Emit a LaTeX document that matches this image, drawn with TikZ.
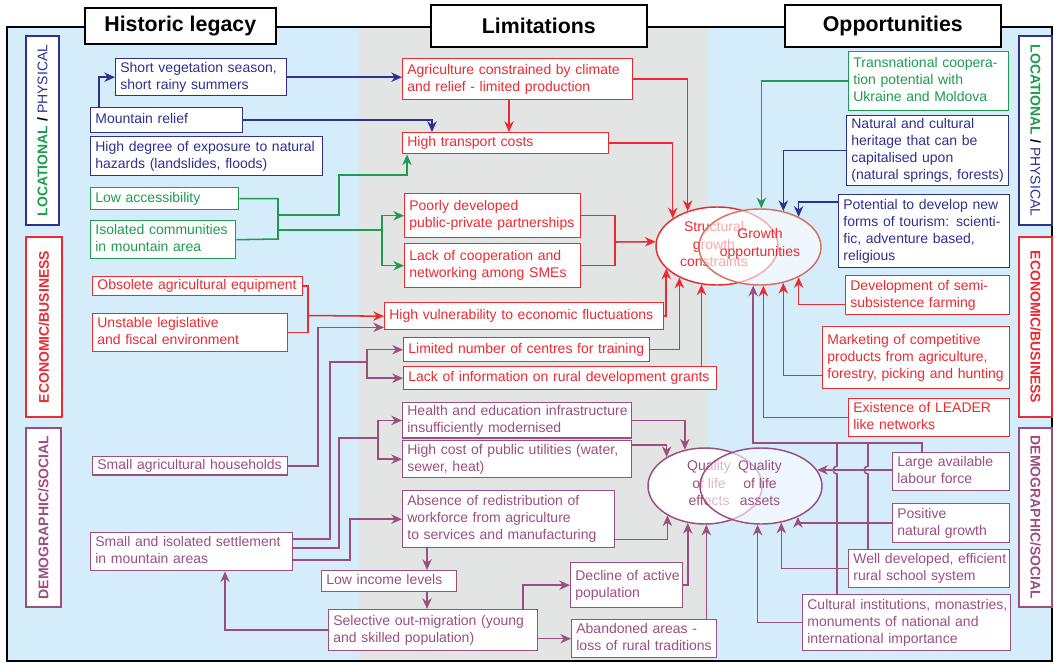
\documentclass[tikz,border=0pt]{standalone}
\usepackage{fontspec}
\setmainfont{Liberation Sans}
\usetikzlibrary{shapes.geometric,arrows.meta,calc}
\definecolor{cb}{HTML}{2E3192}
\definecolor{cg}{HTML}{1E9C4F}
\definecolor{cr}{HTML}{EC2A31}
\definecolor{cp}{HTML}{9C4F7E}
\definecolor{cgo}{HTML}{D9705E}
\definecolor{bgb}{HTML}{D5EDFA}
\definecolor{bgg}{HTML}{E3E4E4}
\tikzset{
 box/.style={draw, fill=white, anchor=north west, line width=1.05pt, inner xsep=3.5pt, inner ysep=0.5pt, align=left, font=\fontsize{10.5}{12.8}\selectfont},
 cn/.style={line width=1.15pt},
 arr/.style={-{Stealth[length=8pt,width=7pt,inset=2.5pt]}},
 hdr/.style={draw=black, fill=white, line width=1.2pt, anchor=north west, inner sep=0pt, font=\bfseries\fontsize{16}{18}\selectfont},
 cat/.style={draw, fill=white, line width=1.05pt, inner sep=0pt, font=\bfseries\fontsize{10.5}{12}\selectfont},
 elltext/.style={font=\fontsize{10.5}{13}\selectfont, align=center, inner sep=0pt},
}
\newcommand\boxnode[7]{%
  \pgfmathsetmacro\bxw{(#4)*0.75-7}%
  \pgfmathsetmacro\bxh{(#5)*0.75}%
  \node[box, draw=#6, text=#6, text width=\bxw pt, minimum height=\bxh pt] (#1) at (#2,#3) {\begin{tabular}{@{}l@{}}#7\end{tabular}};}
\begin{document}
\begin{tikzpicture}[x=0.75pt,y=-0.75pt]
\useasboundingbox (0,0) rectangle (1054,664);
\fill[white] (0,0) rectangle (1054,664);
\fill[bgb] (7,27) rectangle (1052,661);
\fill[bgg] (359,27) rectangle (708,661);
\draw[line width=1.6pt] (7,27) rectangle (1052,661);
% headers
\node[hdr, minimum width=143.25pt, minimum height=27pt] (hl) at (84,7) {Historic legacy};
\node[hdr, minimum width=162pt, minimum height=31.5pt] (lim) at (430,4) {Limitations};
\node[hdr, minimum width=162pt, minimum height=31.5pt] (opp) at (784,4) {Opportunities};
% category boxes
\node[cat, draw=cb, rotate=90, minimum width=141.75pt, minimum height=24.75pt] (lp1) at (42.5,130.5) {\textcolor{cg}{LOCATIONAL} / \textcolor{cb}{\mdseries PHYSICAL}};
\node[cat, draw=cr, text=cr, rotate=90, minimum width=135pt, minimum height=27pt] (eb1) at (44,327) {ECONOMIC/BUSINESS};
\node[cat, draw=cp, text=cp, rotate=90, minimum width=134.25pt, minimum height=26.25pt] (ds1) at (43.5,517.5) {DEMOGRAPHIC/SOCIAL};
\node[cat, draw=cb, rotate=-90, minimum width=141.75pt, minimum height=24.75pt] (lp2) at (1035.5,130.5) {\textcolor{cg}{LOCATIONAL} / \textcolor{cb}{\mdseries PHYSICAL}};
\node[cat, draw=cr, text=cr, rotate=-90, minimum width=135pt, minimum height=24.75pt] (eb2) at (1035.5,327) {ECONOMIC/BUSINESS};
\node[cat, draw=cp, text=cp, rotate=-90, minimum width=134.25pt, minimum height=24.75pt] (ds2) at (1035.5,517.5) {DEMOGRAPHIC/SOCIAL};
% historic legacy
\boxnode{sv}{115}{58}{171}{37}{cb}{Short vegetation season,\\short rainy summers}
\boxnode{mr}{90}{107}{152}{25}{cb}{Mountain relief}
\boxnode{hd}{90}{136}{232}{39}{cb}{High degree of exposure to natural\\hazards (landslides, floods)}
\boxnode{la}{90}{187}{148}{22}{cg}{Low accessibility}
\boxnode{ic}{90}{220}{145}{38}{cg}{Isolated communities\\in mountain area}
\boxnode{oe}{92}{276}{210}{19}{cr}{Obsolete agricultural equipment}
\boxnode{ul}{92}{313}{195}{38}{cr}{Unstable legislative\\and fiscal environment}
\boxnode{sah}{92}{456}{195}{18}{cp}{Small agricultural households}
\boxnode{sis}{90}{532}{202}{38}{cp}{Small and isolated settlement\\in mountain areas}
% limitations
\boxnode{acc}{402}{58}{230}{41}{cr}{Agriculture constrained by climate\\and relief - limited production}
\boxnode{htc}{402}{132}{206}{21}{cr}{High transport costs}
\boxnode{ppp}{404}{193}{176}{44}{cr}{Poorly developed\\public-private partnerships}
\boxnode{lcn}{404}{243}{176}{44}{cr}{Lack of cooperation and\\networking among SMEs}
\boxnode{hvf}{384}{302}{279}{27}{cr}{High vulnerability to economic fluctuations}
\boxnode{lnc}{403}{337}{246}{24}{cr}{Limited number of centres for training}
\boxnode{lir}{403}{366}{313}{23}{cr}{Lack of information on rural development grants}
\boxnode{hei}{402}{402}{229}{35}{cp}{Health and education infrastructure\\insufficiently modernised}
\boxnode{hcu}{402}{440}{229}{37}{cp}{High cost of public utilities (water,\\sewer, heat)}
\boxnode{arw}{402}{490}{212}{57}{cp}{Absence of redistribution of\\workforce from agriculture\\to services and manufacturing}
\boxnode{lil}{321}{570}{135}{21}{cp}{Low income levels}
\boxnode{som}{328}{609}{209}{41}{cp}{Selective out-migration (young\\and skilled population)}
\boxnode{dap}{570}{562}{112}{45}{cp}{Decline of active\\population}
\boxnode{aal}{571}{619}{145}{38}{cp}{Abandoned areas -\\loss of rural traditions}
% opportunities
\boxnode{tcp}{848}{51}{160}{59}{cg}{Transnational coopera-\\tion potential with\\Ukraine and Moldova}
\boxnode{ncu}{846}{115}{162}{70}{cb}{Natural and cultural\\heritage that can be\\capitalised upon\\(natural springs, forests)}
\boxnode{pdt}{838}{194}{171}{73}{cb}{Potential to develop new\\forms of tourism: scienti-\\fic, adventure based,\\religious}
\boxnode{dss}{845}{275}{164}{39}{cr}{Development of semi-\\subsistence farming}
\boxnode{mcp}{822}{326}{187}{62}{cr}{Marketing of competitive\\products from agriculture,\\forestry, picking and hunting}
\boxnode{eln}{848}{398}{161}{38}{cr}{Existence of LEADER\\like networks}
\boxnode{lal}{892}{452}{117}{38}{cp}{Large available\\labour force}
\boxnode{png}{892}{503}{117}{39}{cp}{Positive\\natural growth}
\boxnode{wde}{848}{549}{161}{38}{cp}{Well developed, efficient\\rural school system}
\boxnode{cim}{802}{594}{208}{56}{cp}{Cultural institutions, monastries,\\monuments of national and\\international importance}
% ellipses
\node[ellipse, draw=cr, fill=white, line width=1.1pt, minimum width=91.5pt, minimum height=58.5pt, inner sep=0pt] (sgc) at (717,246) {};
\node[elltext, text=cr] (sgct) at (714,244) {Structural\\growth\\constraints};
\node[ellipse, draw=cgo, fill=white, fill opacity=0.6, line width=1.1pt, minimum width=91.5pt, minimum height=57pt, inner sep=0pt] (go) at (760,247) {};
\node[elltext, text=cr] (got) at (760,244) {Growth\\opportunities};
\node[ellipse, draw=cp, fill=white, line width=1.1pt, minimum width=85.5pt, minimum height=57pt, inner sep=0pt] (qe) at (705,486) {};
\node[elltext, text=cp] (qet) at (709,483) {Quality\\of life\\effects};
\node[ellipse, draw=cp, fill=white, fill opacity=0.6, line width=1.1pt, minimum width=91.5pt, minimum height=57pt, inner sep=0pt] (qa) at (761,486) {};
\node[elltext, text=cp] (qat) at (760,483) {Quality\\of life\\assets};
% junctions
\coordinate (gx) at (278,239);
\coordinate (g1) at (278,215);
\coordinate (g2) at (278,230);
\coordinate (g3) at (382,230);
\coordinate (r1) at (615,242);
\coordinate (r2) at (308,315.5);
\coordinate (p1) at (367,362);
\coordinate (p2) at (378,438);
% blue
\draw[cb,cn,arr] ($(mr.north west)+(9,0)$) |- (sv.west);
\draw[cb,cn,arr] (sv.east) -- (sv.east -| acc.west);
\draw[cb,cn,arr] (mr.east) -| ($(htc.north west)+(30,0)$);
% green
\draw[cg,cn] (la.east) -| (gx) -- (ic.east);
\draw[cg,cn,arr] (g1) -| (339,175) -| ($(htc.south west)+(5,0)$);
\draw[cg,cn] (g2) -- (g3);
\draw[cg,cn,arr] (g3) |- (ppp.west);
\draw[cg,cn,arr] (g3) |- (lcn.west);
% red limitations
\draw[cr,cn,arr] ($(acc.south west)+(107,0)$) -- ($(htc.north west)+(107,0)$);
\draw[cr,cn,arr] (acc.east) -| (sgc.130);
\draw[cr,cn,arr] (htc.east) -| (sgc.148);
\draw[cr,cn] (ppp.east) -| (r1) |- (lcn.east);
\draw[cr,cn,arr] (r1) -- (sgc.176);
\draw[cr,cn] (oe.east) -| (r2) |- (ul.east);
\draw[cr,cn,arr] (r2) -- (hvf.west);
\draw[cr,cn,arr] (hvf.east) -| (sgc.204);
\draw[cr,cn,arr] (lnc.east) -| (sgc.220);
\draw[cr,cn,arr] (sgc.248 |- lir.north) -- (sgc.248);
% purple left
\draw[cp,cn,arr] (sah.east) -| ($(hvf.south west)+(-66,-3)$) -- ($(hvf.south west)+(0,-3)$);
\draw[cp,cn] ($(sis.north east)+(0,7)$) -| (330,362) -- (p1);
\draw[cp,cn,arr] (p1) |- (lnc.west);
\draw[cp,cn,arr] (p1) |- (lir.west);
\draw[cp,cn] ($(sis.north east)+(0,16)$) -| (339,438) -- (p2);
\draw[cp,cn,arr] (p2) |- (hei.west);
\draw[cp,cn,arr] (p2) |- (hcu.west);
\draw[cp,cn,arr] ($(sis.north east)+(0,28)$) -| ($(arw.west)+(-52,0)$) -- (arw.west);
% purple limitations
\draw[cp,cn,arr] (hei.east) -| (qe.119);
\draw[cp,cn,arr] ($(hcu.north east)+(0,5)$) -| (qe.143);
\draw[cp,cn,arr] ($(arw.south east)+(0,-9)$) -| (qe.218);
\draw[cp,cn,arr] ($(arw.south west)+(25,0)$) -- ($(lil.north west)+(106,0)$);
\draw[cp,cn,arr] ($(lil.south west)+(106,0)$) -- ($(som.north west)+(99,0)$);
\draw[cp,cn,arr] ($(som.north west)+(195,0)$) |- (dap.west);
\draw[cp,cn,arr] (som.east |- aal.west) -- (aal.west);
\draw[cp,cn,arr] (dap.east) -| (qe.245);
\draw[cp,cn,arr] (qe.272 |- aal.north) -- (qe.272);
\draw[cp,cn,arr] (som.west) -| ($(sis.south west)+(135,0)$);
% opportunities
\draw[cg,cn,arr] (tcp.west) -| (go.88);
\draw[cb,cn,arr] (ncu.west) -| (go.57);
\draw[cb,cn,arr] ($(pdt.north west)+(0,8)$) -| (go.38);
\draw[cr,cn,arr] ($(dss.south west)+(0,-11)$) -| (go.322);
\draw[cr,cn,arr] ($(mcp.south west)+(0,-14)$) -| (go.303);
\draw[cr,cn,arr] (eln.west) -| (go.275);
\draw[cp,cn,arr] ($(lal.north west)+(30,0)$) -- ++(0,-9) -| (go.260);
\draw[cp,cn] ($(wde.north west)+(20,0)$) -- (868,474) .. controls (863,474) and (863,466) .. (868,466) -- (868,443);
\draw[cp,cn] ($(cim.north west)+(35,0)$) -- (837,474) .. controls (832,474) and (832,466) .. (837,466) -- (837,443);
\draw[cp,cn,arr] (qa.16 -| lal.west) -- (qa.16);
\draw[cp,cn,arr] (png.west) -| (qa.320);
\draw[cp,cn,arr] (wde.west) -| (qa.299);
\draw[cp,cn,arr] (cim.west) -| (qa.265);
\end{tikzpicture}
\end{document}
